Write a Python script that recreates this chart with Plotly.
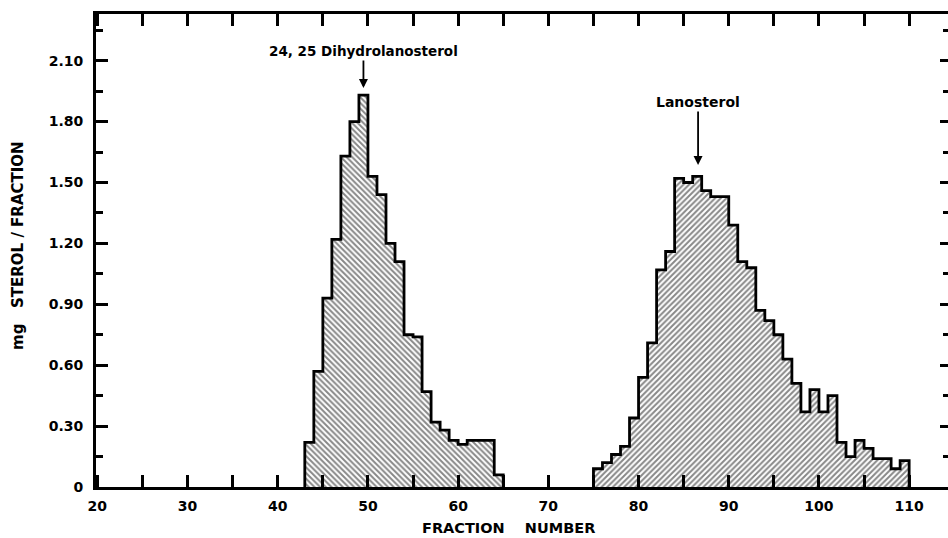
import plotly.graph_objects as go

# ---- data -------------------------------------------------------------
dihydro_start = 43
dihydro_values = [0.22, 0.57, 0.93, 1.22, 1.63, 1.80, 1.93, 1.53, 1.44, 1.20,
                  1.11, 0.75, 0.74, 0.47, 0.32, 0.28, 0.23, 0.21, 0.23, 0.23,
                  0.23, 0.06]

lano_start = 75
lano_values = [0.09, 0.12, 0.16, 0.20, 0.34, 0.54, 0.71, 1.07, 1.16, 1.52,
               1.50, 1.53, 1.46, 1.43, 1.43, 1.29, 1.11, 1.08, 0.87, 0.82,
               0.75, 0.63, 0.51, 0.37, 0.48, 0.37, 0.45, 0.22, 0.15, 0.23,
               0.19, 0.14, 0.14, 0.09, 0.13]

y_tickvals = [0, 0.3, 0.6, 0.9, 1.2, 1.5, 1.8, 2.1]
y_ticktext = ["0", "0.30", "0.60", "0.90", "1.20", "1.50", "1.80", "2.10"]
x_tickvals = [20, 30, 40, 50, 60, 70, 80, 90, 100, 110]
x_ticktext = ["20", "30", "40", "50", "60", "70", "80", "90", "100", "110"]

FONT = "DejaVu Sans"
NB = "\u00a0"

W, H = 948, 538
ML, MR, MT, MB = 96, 0, 14, 51
XMIN = 19.85


def centers(start, vals):
    return [start + i + 0.5 for i in range(len(vals))]


def step_xy(start, vals):
    xs = [start] + [start + i for i in range(len(vals))] + [start + len(vals)]
    ys = [0] + list(vals) + [0]
    return xs, ys


fig = go.Figure()

for start, vals, shape in [(dihydro_start, dihydro_values, "\\"),
                           (lano_start, lano_values, "/")]:
    fig.add_trace(go.Bar(
        x=centers(start, vals), y=vals, width=1.0,
        marker=dict(color="white",
                    line=dict(width=0),
                    pattern=dict(shape=shape, fgcolor="#111111",
                                 bgcolor="white", size=4, solidity=0.5)),
        hoverinfo="skip", showlegend=False))
    xs, ys = step_xy(start, vals)
    fig.add_trace(go.Scatter(
        x=xs, y=ys, mode="lines", line=dict(color="black", width=2.8, shape="hv"),
        hoverinfo="skip", showlegend=False))

# invisible trace so the right-hand tick axis is drawn
fig.add_trace(go.Scatter(x=[20], y=[0], yaxis="y2", mode="markers",
                         marker=dict(opacity=0), hoverinfo="skip", showlegend=False))

tickfont = dict(family=FONT, size=14, color="black", weight="bold")
xmax = XMIN + (W - ML - MR) / 9.02

fig.update_layout(
    width=W, height=H,
    margin=dict(l=ML, r=MR, t=MT, b=MB),
    paper_bgcolor="white", plot_bgcolor="white",
    bargap=0, barmode="overlay",
    xaxis=dict(range=[XMIN, xmax], showgrid=False, zeroline=False,
               showline=True, linecolor="black", linewidth=3,
               mirror="allticks",
               ticks="inside", ticklen=12, tickwidth=2.5, tickcolor="black",
               tickvals=x_tickvals, ticktext=x_ticktext, tickfont=tickfont,
               ticklabelstandoff=4,
               minor=dict(dtick=5, tick0=20, ticks="inside", ticklen=7,
                          tickwidth=2.5, tickcolor="black")),
    yaxis=dict(range=[0, 2.33], showgrid=False, zeroline=False,
               showline=True, linecolor="black", linewidth=3,
               ticks="inside", ticklen=12, tickwidth=2.5, tickcolor="black",
               tickvals=y_tickvals, ticktext=y_ticktext, tickfont=tickfont,
               ticklabelstandoff=7,
               minor=dict(dtick=0.15, tick0=0, ticks="inside", ticklen=7,
                          tickwidth=2.5, tickcolor="black")),
    yaxis2=dict(range=[0, 2.33], overlaying="y", side="right",
                showgrid=False, zeroline=False, showline=False,
                ticks="inside", ticklen=8, tickwidth=2.5, tickcolor="black",
                tickvals=y_tickvals, showticklabels=False,
                minor=dict(dtick=0.15, tick0=0, ticks="inside", ticklen=5,
                           tickwidth=2.5, tickcolor="black")),
    showlegend=False,
)

fig.add_annotation(x=49.5, y=1.965, xref="x", yref="y",
                   text="24, 25" + NB + "Dihydrolanosterol",
                   showarrow=True, ax=0, ay=-37, arrowhead=2, arrowsize=1,
                   arrowwidth=1.8, arrowcolor="black",
                   font=dict(family=FONT, size=13.5, color="black", weight="bold"))
fig.add_annotation(x=86.6, y=1.586, xref="x", yref="y",
                   text="Lanosterol",
                   showarrow=True, ax=0, ay=-63, arrowhead=2, arrowsize=1,
                   arrowwidth=1.8, arrowcolor="black",
                   font=dict(family=FONT, size=14, color="black", weight="bold"))

pw, ph = W - ML - MR, H - MT - MB


def px_to_paper(px, py):
    return (px - ML) / pw, ((H - MB) - py) / ph


tx, ty = px_to_paper(508, 528)
fig.add_annotation(x=tx, y=ty, xref="paper", yref="paper",
                   xanchor="center", yanchor="middle",
                   text="FRACTION" + NB * 4 + "NUMBER", showarrow=False,
                   font=dict(family=FONT, size=14.5, color="black", weight="bold"))
tx, ty = px_to_paper(18, 246)
fig.add_annotation(x=tx, y=ty, xref="paper", yref="paper",
                   xanchor="center", yanchor="middle",
                   text="mg" + NB * 3 + "STEROL" + NB + "/" + NB + "FRACTION",
                   showarrow=False, textangle=-90,
                   font=dict(family=FONT, size=15, color="black", weight="bold"))

fig.write_html("out.html")
